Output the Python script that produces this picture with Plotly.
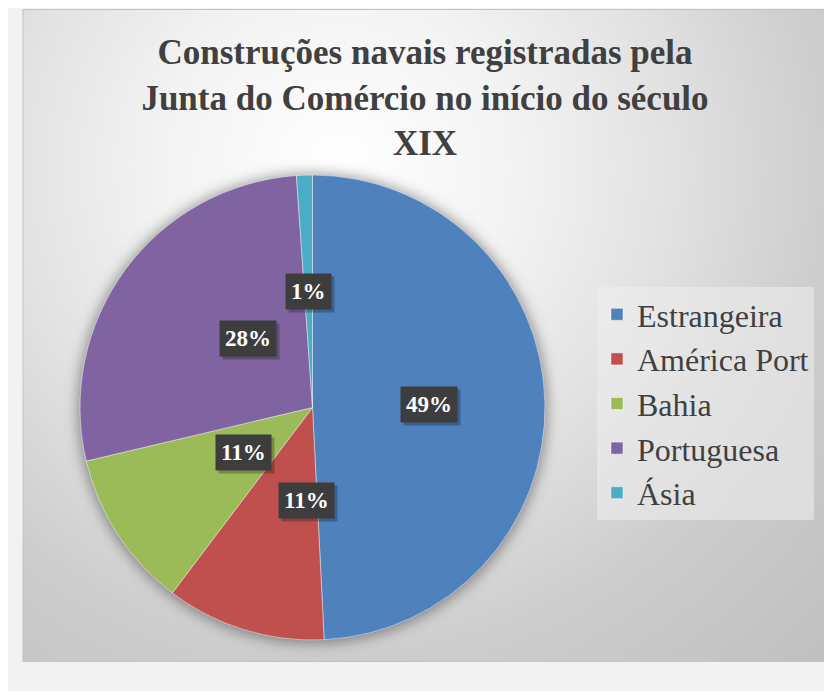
import base64
import math
import plotly.graph_objects as go

labels = ["Estrangeira", "América Port", "Bahia", "Portuguesa", "Ásia"]
values = [49.2, 11.1, 11.0, 27.6, 1.1]
colors = ["#4F81BD", "#C0504D", "#9BBB59", "#8064A2", "#4BACC6"]
title_lines = [
    "Construções navais registradas pela",
    "Junta do Comércio no início do século",
    "XIX",
]

# the page body keeps an 8px margin, so the figure is a bit smaller than the window
W, H = 824, 683
# pie centre and radius in figure pixels
cx, cy, R = 304.5, 399.5, 232.5
serif = "Liberation Serif"

# background: chart area with radial gradient, soft shadow under the pie
svg = f"""<svg xmlns="http://www.w3.org/2000/svg" width="{W}" height="{H}" viewBox="0 0 {W} {H}" preserveAspectRatio="none">
<defs>
<radialGradient id="bg" gradientUnits="userSpaceOnUse" cx="330" cy="160" r="700">
<stop offset="0" stop-color="#ffffff"/>
<stop offset="0.25" stop-color="#f3f3f3"/>
<stop offset="0.47" stop-color="#e2e2e2"/>
<stop offset="0.7" stop-color="#cdcdcd"/>
<stop offset="1" stop-color="#bfbfbf"/>
</radialGradient>
<filter id="blur" x="-20%" y="-20%" width="140%" height="140%"><feGaussianBlur stdDeviation="7"/></filter>
</defs>
<rect x="0" y="0" width="{W}" height="{H}" fill="#f2f2f2"/>
<rect x="15" y="1.5" width="808" height="652" fill="url(#bg)" stroke="#c4c4c4" stroke-width="1"/>
<circle cx="{cx}" cy="{cy + 1}" r="{R + 2}" fill="#000000" fill-opacity="0.4" filter="url(#blur)"/>
</svg>"""
bg_uri = "data:image/svg+xml;base64," + base64.b64encode(svg.encode("utf-8")).decode("ascii")

fig = go.Figure()
fig.add_trace(
    go.Pie(
        labels=labels,
        values=values,
        sort=False,
        direction="clockwise",
        rotation=0,
        textinfo="none",
        hoverinfo="label+percent",
        marker=dict(colors=colors, line=dict(color="rgba(255,255,255,0.45)", width=1)),
        domain=dict(
            x=[(cx - R) / W, (cx + R) / W],
            y=[1 - (cy + R) / H, 1 - (cy - R) / H],
        ),
    )
)

# data labels at half radius along each slice's middle angle
total = sum(values)
start = 0.0
for lab, val in zip(labels, values):
    mid = (start + val / 2) / total
    start += val
    theta = 2 * math.pi * mid
    px = cx + 0.5 * R * math.sin(theta)
    py = cy - 0.5 * R * math.cos(theta)
    txt = f"<b>{round(val / total * 100)}%</b>"
    pos = dict(x=px / W, y=1 - py / H, xref="paper", yref="paper",
               showarrow=False, borderpad=5)
    # drop shadow
    fig.add_annotation(text=txt, xshift=3, yshift=-3, bgcolor="rgba(0,0,0,0.25)",
                       font=dict(family=serif, size=23, color="rgba(0,0,0,0)"), **pos)
    fig.add_annotation(text=txt, bgcolor="#3d3d3d",
                       font=dict(family=serif, size=23, color="#ffffff"), **pos)

fig.update_layout(
    width=W,
    height=H,
    margin=dict(l=0, r=0, t=0, b=0),
    paper_bgcolor="#f2f2f2",
    images=[dict(source=bg_uri, xref="paper", yref="paper", x=0, y=1,
                 sizex=1, sizey=1, sizing="stretch", xanchor="left",
                 yanchor="top", layer="below")],
    title=dict(
        text="<b>" + "<br>".join(title_lines) + "</b>",
        x=417 / W, xanchor="center",
        y=1 - 56 / H, yanchor="top",
        font=dict(family=serif, size=35, color="#404040"),
    ),
    showlegend=True,
    legend=dict(
        x=589 / W, xanchor="left",
        y=1 - 279 / H, yanchor="top",
        font=dict(family=serif, size=32, color="#404040"),
        bgcolor="rgba(238,238,238,0.55)",
        borderwidth=0,
    ),
)

fig.write_html("out.html")
